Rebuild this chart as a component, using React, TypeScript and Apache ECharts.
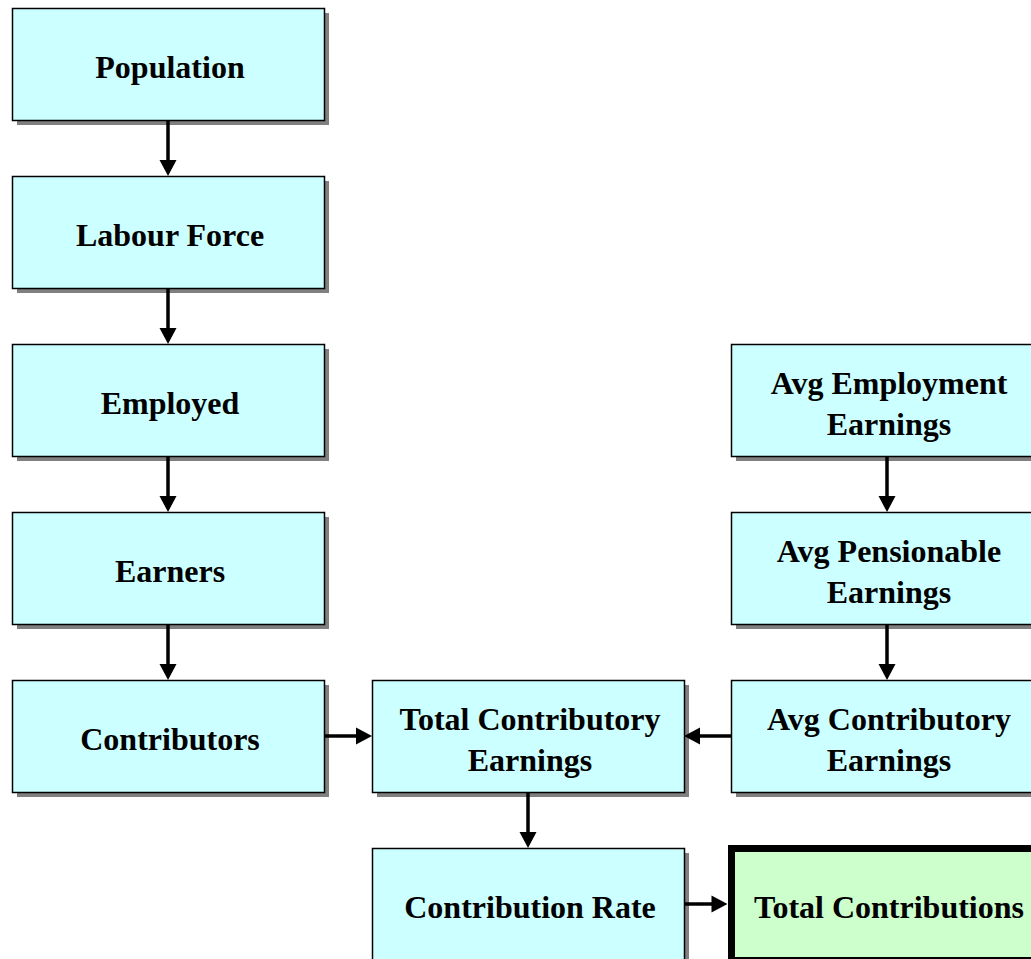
import React, { useEffect, useRef } from "react";
import * as echarts from "echarts";

// Flowchart content (logical layout: column / row indices)
const NODE_LABELS = [
  "Population",
  "Labour Force",
  "Employed",
  "Earners",
  "Contributors",
  "Total Contributory\nEarnings",
  "Contribution Rate",
  "Avg Employment\nEarnings",
  "Avg Pensionable\nEarnings",
  "Avg Contributory\nEarnings",
  "Total Contributions",
];
const NODE_COLS = [0, 0, 0, 0, 0, 1, 1, 2, 2, 2, 2];
const NODE_ROWS = [0, 1, 2, 3, 4, 4, 5, 2, 3, 4, 5];
const NODE_HIGHLIGHT = [false, false, false, false, false, false, false, false, false, false, true];

const EDGE_FROM = [0, 1, 2, 3, 4, 9, 7, 8, 5, 6];
const EDGE_TO = [1, 2, 3, 4, 5, 5, 8, 9, 6, 10];

export default function App() {
  const ref = useRef<HTMLDivElement>(null);

  useEffect(() => {
    if (!ref.current) return;
    const chart = echarts.init(ref.current, undefined, { renderer: "svg" });

    const X0 = 12;
    const Y0 = 8;
    const COL_STEP = 359.5;
    const ROW_STEP = 168;
    const W = 312;
    const H = 112;
    const THICK = 7;

    const box = (i: number) => {
      const x = Math.round(X0 + NODE_COLS[i] * COL_STEP);
      const y = Y0 + NODE_ROWS[i] * ROW_STEP;
      const pad = NODE_HIGHLIGHT[i] ? THICK / 2 : 0;
      return { x, y, w: W, h: H, pad };
    };

    const elements: any[] = [];

    NODE_LABELS.forEach((label, i) => {
      const b = box(i);
      if (!NODE_HIGHLIGHT[i]) {
        elements.push({
          type: "rect",
          shape: { x: b.x + 5, y: b.y + 5, width: b.w, height: b.h },
          style: { fill: "#808080" },
          z: 1,
        });
        elements.push({
          type: "rect",
          shape: { x: b.x + 0.5, y: b.y + 0.5, width: b.w, height: b.h },
          style: { fill: "#CCFFFF", stroke: "#000", lineWidth: 1.5 },
          z: 2,
        });
      } else {
        elements.push({
          type: "rect",
          shape: { x: b.x + 0.5, y: b.y + 0.5, width: b.w, height: b.h },
          style: { fill: "#CCFFCC", stroke: "#000", lineWidth: THICK },
          z: 2,
        });
      }
      elements.push({
        type: "text",
        x: b.x + b.w / 2 + 2,
        y: b.y + b.h / 2 + 3,
        style: {
          text: label,
          align: "center",
          verticalAlign: "middle",
          fontFamily: '"Liberation Serif", "Times New Roman", serif',
          fontWeight: "bold",
          fontSize: 32,
          lineHeight: 41,
          fill: "#000",
        },
        z: 3,
      });
    });

    const HEAD_L = 16;
    const HEAD_W = 8.5;

    EDGE_FROM.forEach((f, k) => {
      const t = EDGE_TO[k];
      const a = box(f);
      const b = box(t);
      let x1, y1, x2, y2;
      if (NODE_COLS[f] === NODE_COLS[t]) {
        x1 = x2 = a.x + a.w / 2;
        y1 = a.y + a.h;
        y2 = b.y - b.pad;
        elements.push({
          type: "line",
          shape: { x1, y1, x2, y2: y2 - HEAD_L + 2 },
          style: { stroke: "#000", lineWidth: 3.5 },
          z: 4,
        });
        elements.push({
          type: "polygon",
          shape: { points: [[x2 - HEAD_W, y2 - HEAD_L], [x2 + HEAD_W, y2 - HEAD_L], [x2, y2]] },
          style: { fill: "#000" },
          z: 4,
        });
      } else {
        y1 = y2 = a.y + a.h / 2;
        const dir = NODE_COLS[t] > NODE_COLS[f] ? 1 : -1;
        x1 = dir > 0 ? a.x + a.w : a.x;
        x2 = dir > 0 ? b.x - b.pad : b.x + b.w;
        elements.push({
          type: "line",
          shape: { x1, y1, x2: x2 - dir * (HEAD_L - 2), y2 },
          style: { stroke: "#000", lineWidth: 3.5 },
          z: 4,
        });
        elements.push({
          type: "polygon",
          shape: {
            points: [[x2 - dir * HEAD_L, y2 - HEAD_W], [x2 - dir * HEAD_L, y2 + HEAD_W], [x2, y2]],
          },
          style: { fill: "#000" },
          z: 4,
        });
      }
    });

    chart.setOption({
      animation: false,
      backgroundColor: "#ffffff",
      graphic: { elements },
    });

    return () => chart.dispose();
  }, []);

  return (
    <div
      ref={ref}
      style={{ position: "fixed", left: 0, top: 0, width: 1031, height: 959 }}
    />
  );
}
